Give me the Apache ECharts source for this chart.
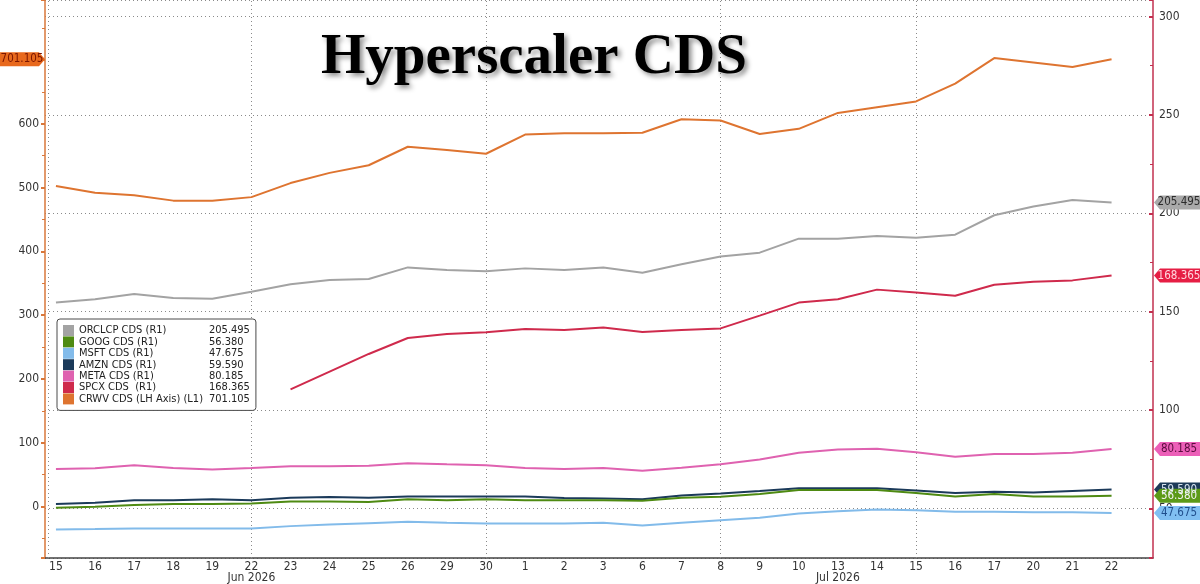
<!DOCTYPE html>
<html>
<head>
<meta charset="utf-8">
<script src="https://cdn.jsdelivr.net/npm/echarts@6/dist/echarts.min.js"></script>
<style>
  html, body { margin: 0; padding: 0; background: #fff; }
  #chart { width: 1200px; height: 584px; }
</style>
</head>
<body>
<div id="chart"></div>
<script>
// trading days, Jun 15 - Jul 22 2026
var days = ['15', '16', '17', '18', '19', '22', '23', '24', '25', '26', '29', '30',
            '1', '2', '3', '6', '7', '8', '9', '10', '13', '14', '15', '16', '17', '20', '21', '22'];
var monthLabels = [[5, 'Jun 2026'], [20, 'Jul 2026']];
var weekLines = [-0.2, 5, 11, 17, 22];

// right axis (R1)
var orcl = [154.6, 156.3, 159, 157, 156.6, 160.1, 163.9, 166.1, 166.6, 172.5, 171.2, 170.5, 172, 171.2,
            172.5, 169.8, 174.1, 178, 180, 187.1, 187.1, 188.5, 187.6, 189.1, 199, 203.4, 206.8, 205.5];
var goog = [50.3, 50.8, 51.7, 52.2, 52.2, 52.5, 53.5, 53.5, 53.2, 54.6, 54.2, 54.6, 54.2, 54.2,
            54.2, 53.9, 55.4, 55.9, 57.3, 59.3, 59.3, 59.3, 57.8, 56.1, 57.3, 56.1, 56.1, 56.4];
var msft = [39.3, 39.5, 39.8, 39.8, 39.8, 39.8, 41.0, 41.8, 42.5, 43.2, 42.7, 42.3, 42.3, 42.3,
            42.7, 41.3, 42.7, 44.0, 45.2, 47.4, 48.5, 49.5, 49.1, 48.3, 48.3, 48.0, 48.0, 47.7];
var amzn = [52.2, 52.9, 54.1, 54.2, 54.6, 54.2, 55.4, 55.8, 55.4, 56.1, 56.1, 56.1, 56.1, 55.3,
            55.1, 54.6, 56.6, 57.6, 58.9, 60.3, 60.3, 60.3, 59.1, 57.8, 58.5, 58.1, 58.9, 59.6];
var meta = [70.0, 70.4, 71.9, 70.5, 69.8, 70.5, 71.4, 71.4, 71.7, 73.0, 72.4, 71.9, 70.5, 70.0,
            70.5, 69.2, 70.7, 72.4, 74.9, 78.3, 80.0, 80.3, 78.5, 76.3, 77.6, 77.6, 78.3, 80.2];
var spcx = [null, null, null, null, null, null, 110.5, 119.5, 128.5, 136.6, 138.6, 139.5, 141.2, 140.7,
            142, 139.7, 140.7, 141.5, 148, 154.6, 156.3, 161.2, 159.8, 158.1, 163.7, 165.2, 165.9, 168.4];
// left axis (L1)
var crwv = [502.6, 492, 488, 479.5, 479.5, 485, 507, 523, 535, 564, 559, 553, 583, 585,
            585, 586, 607, 605, 584, 592, 617, 626, 635, 663, 703, 696, 689, 701.1];

var names = ['ORCLCP CDS (R1)', 'GOOG CDS (R1)', 'MSFT CDS (R1)', 'AMZN CDS (R1)',
             'META CDS (R1)', 'SPCX CDS  (R1)', 'CRWV CDS (LH Axis) (L1)'];
var lastVals = [205.495, 56.380, 47.675, 59.590, 80.185, 168.365, 701.105];
var lastText = ['205.495', '56.380', '47.675', '59.590', '80.185', '168.365', '701.105'];
var colors = ['#a3a3a3', '#4e8a12', '#82bbea', '#1b3a5a', '#df62b0', '#cf2a4c', '#de7430'];
var tagBg = ['#a9a9a9', '#5c9a18', '#80bff2', '#1d3a58', '#ec5fb8', '#e61e44', '#e8691d'];
var tagFg = ['#2b2b2b', '#f4f4f4', '#1f4e8c', '#d8e4f0', '#5a0c3e', '#ffd6de', '#7a1500'];
var lines = [orcl, goog, msft, amzn, meta, spcx, crwv];

var font = 'DejaVu Sans Condensed, DejaVu Sans';
var xMin = -0.28, xMax = 28.06;

var chart = echarts.init(document.getElementById('chart'));

function pairs(arr) {
    return arr.map(function (v, i) { return [i, v]; });
}

function tag(k) {
    var right = k < 6;
    return {
        symbol: right ? 'path://M0,7 L6,0 L48,0 L48,14 L6,14 Z' : 'path://M0,0 L42,0 L48,7 L42,14 L0,14 Z',
        symbolSize: [48, 14],
        symbolKeepAspect: false,
        data: [{
            coord: [right ? xMax : xMin, lastVals[k]],
            symbolOffset: [right ? 25 : -24, 0],
            itemStyle: { color: tagBg[k] },
            label: {
                show: true, position: 'inside', formatter: lastText[k], color: tagFg[k],
                fontSize: 11.5, fontFamily: font, offset: [1, 0]
            }
        }]
    };
}

// draw order: AMZN under GOOG under MSFT (tag overlap)
var order = [0, 3, 1, 2, 4, 5, 6];
var series = order.map(function (k) {
    return {
        name: names[k],
        type: 'line',
        yAxisIndex: k === 6 ? 0 : 1,
        data: pairs(lines[k]),
        showSymbol: false,
        connectNulls: false,
        color: colors[k],
        lineStyle: { width: 2, color: colors[k] },
        emphasis: { disabled: true },
        markPoint: tag(k),
        animation: false
    };
});

series[0].markLine = {
    silent: true,
    symbol: 'none',
    z: 1,
    label: { show: false },
    lineStyle: { color: '#8a8a8a', type: [1, 3], width: 1 },
    data: weekLines.map(function (x) { return { xAxis: x }; })
};

var option = {
    backgroundColor: '#fff',
    animation: false,
    textStyle: { fontFamily: font },
    title: {
        text: 'Hyperscaler CDS',
        left: 316,
        top: 25,
        textStyle: {
            fontFamily: 'Liberation Serif',
            fontWeight: 'bold',
            fontSize: 57,
            color: '#000',
            textShadowColor: 'rgba(0,0,0,0.45)',
            textShadowBlur: 5,
            textShadowOffsetX: 3,
            textShadowOffsetY: 3
        }
    },
    legend: {
        data: names,
        z: 20,
        orient: 'vertical',
        left: 57,
        top: 319,
        padding: [6, 6, 6, 6],
        itemWidth: 11,
        itemHeight: 11,
        itemGap: 0.4,
        itemTextGap: 3,
        icon: 'rect',
        selectedMode: false,
        backgroundColor: '#fff',
        borderColor: '#4a4a4a',
        borderWidth: 1,
        borderRadius: 3,
        formatter: function (n) {
            return '{n|' + n + '}{v|' + lastText[names.indexOf(n)] + '}';
        },
        textStyle: {
            rich: {
                n: { width: 130, fontSize: 11, fontFamily: font, color: '#222', lineHeight: 13 },
                v: { width: 40, fontSize: 11, fontFamily: font, color: '#222', lineHeight: 13 }
            }
        }
    },
    grid: { left: 45, right: 47, top: 0, bottom: 26, containLabel: false, outerBoundsMode: 'none' },
    xAxis: {
        type: 'value',
        min: xMin,
        max: xMax,
        axisLine: { show: true, onZero: false, lineStyle: { color: '#444', width: 1.5 } },
        axisTick: { show: false },
        splitLine: { show: false },
        axisLabel: {
            customValues: days.map(function (d, i) { return i; }),
            color: '#333',
            fontSize: 12,
            margin: 3,
            lineHeight: 11,
            formatter: function (v) {
                var i = Math.round(v);
                var t = days[i];
                monthLabels.forEach(function (m) { if (m[0] === i) { t += '\n' + m[1]; } });
                return t;
            }
        }
    },
    yAxis: [
        {
            type: 'value',
            position: 'left',
            min: -80.7,
            max: 794,
            splitNumber: 8,
            axisLine: { show: true, onZero: false, lineStyle: { color: '#d9773a', width: 1.5 } },
            axisTick: { show: true, length: 4, lineStyle: { color: '#d9773a', width: 2 } },
            minorTick: { show: true, splitNumber: 2, length: 3, lineStyle: { color: '#d9773a' } },
            splitLine: { show: false },
            axisLabel: { color: '#333', fontSize: 12, margin: 6, showMinLabel: false, showMaxLabel: false }
        },
        {
            type: 'value',
            position: 'right',
            min: 24.8,
            max: 308.4,
            splitNumber: 5,
            axisLine: { show: true, onZero: false, lineStyle: { color: '#c2304f', width: 1.5 } },
            axisTick: { show: true, inside: true, length: 4, lineStyle: { color: '#c2304f', width: 2 } },
            minorTick: { show: true, splitNumber: 2, length: 3, lineStyle: { color: '#c2304f' } },
            splitLine: { show: true, lineStyle: { color: '#8a8a8a', type: [1, 3], width: 1 } },
            axisLabel: { color: '#333', fontSize: 12, margin: 6, showMinLabel: false, showMaxLabel: false }
        }
    ],
    series: series
};

chart.setOption(option);
</script>
</body>
</html>
